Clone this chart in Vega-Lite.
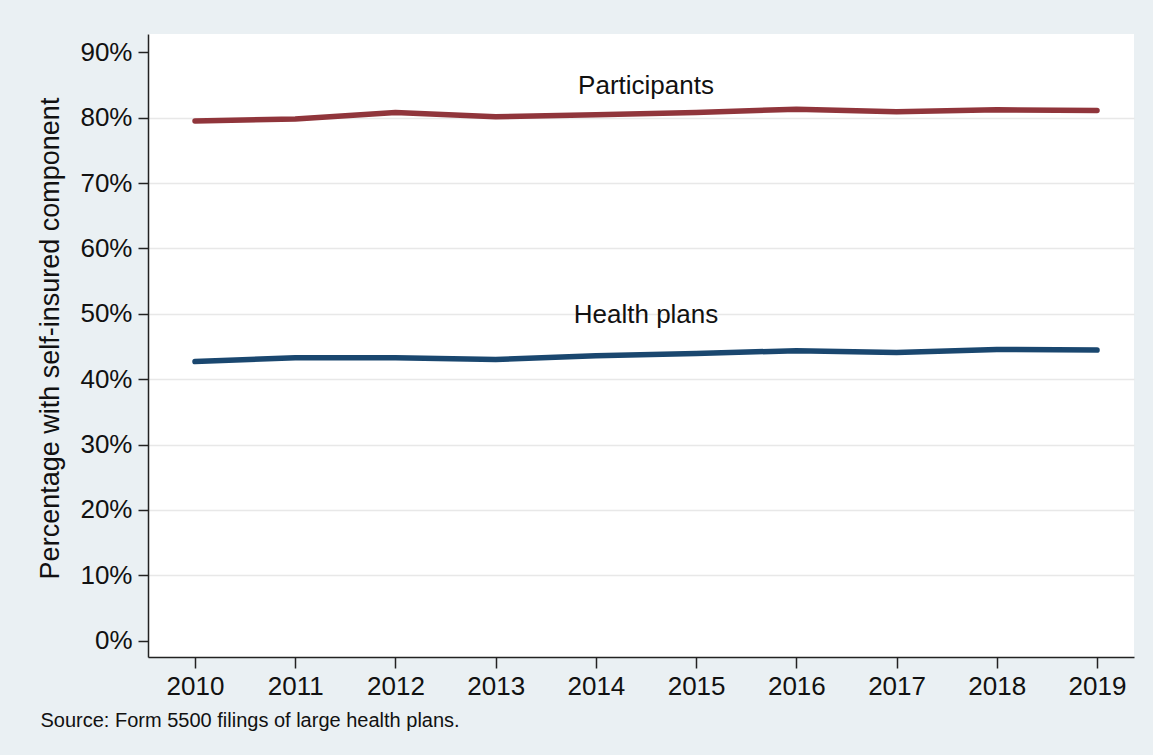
{
  "$schema": "https://vega.github.io/schema/vega-lite/v6.json",
  "width": 986,
  "height": 623,
  "autosize": {"type": "none"},
  "padding": {"left": 148, "top": 34, "right": 19, "bottom": 98},
  "background": "#eaf0f3",
  "view": {"fill": "white", "stroke": null},
  "config": {
    "font": "Liberation Sans",
    "axis": {"labelFont": "Liberation Sans", "titleFont": "Liberation Sans", "labelColor": "#111", "titleColor": "#111", "titleFontWeight": "normal"}
  },
  "datasets": {
    "series": [
      {"year": 2010, "value": 79.5, "series": "Participants"},
      {"year": 2011, "value": 79.8, "series": "Participants"},
      {"year": 2012, "value": 80.8, "series": "Participants"},
      {"year": 2013, "value": 80.15, "series": "Participants"},
      {"year": 2014, "value": 80.45, "series": "Participants"},
      {"year": 2015, "value": 80.8, "series": "Participants"},
      {"year": 2016, "value": 81.3, "series": "Participants"},
      {"year": 2017, "value": 80.9, "series": "Participants"},
      {"year": 2018, "value": 81.2, "series": "Participants"},
      {"year": 2019, "value": 81.1, "series": "Participants"},
      {"year": 2010, "value": 42.7, "series": "Health plans"},
      {"year": 2011, "value": 43.3, "series": "Health plans"},
      {"year": 2012, "value": 43.3, "series": "Health plans"},
      {"year": 2013, "value": 43.0, "series": "Health plans"},
      {"year": 2014, "value": 43.6, "series": "Health plans"},
      {"year": 2015, "value": 43.95, "series": "Health plans"},
      {"year": 2016, "value": 44.35, "series": "Health plans"},
      {"year": 2017, "value": 44.1, "series": "Health plans"},
      {"year": 2018, "value": 44.55, "series": "Health plans"},
      {"year": 2019, "value": 44.45, "series": "Health plans"}
    ],
    "labels": [
      {"year": 2014.5, "value": 84.9, "label": "Participants"},
      {"year": 2014.5, "value": 49.8, "label": "Health plans"}
    ]
  },
  "layer": [
    {
      "data": {"name": "series"},
      "mark": {"type": "line", "strokeWidth": 5.5, "strokeCap": "round", "strokeJoin": "round"},
      "encoding": {
        "x": {
          "field": "year", "type": "quantitative",
          "scale": {"domain": [2009.531, 2019.369], "nice": false, "zero": false},
          "axis": {
            "values": [2010, 2011, 2012, 2013, 2014, 2015, 2016, 2017, 2018, 2019],
            "format": "d",
            "grid": false,
            "domainColor": "#222", "domainWidth": 1.5,
            "tickColor": "#222", "tickWidth": 1.5, "tickSize": 11,
            "labelFontSize": 26, "labelPadding": 5,
            "title": "Source: Form 5500 filings of large health plans.",
            "titleFontSize": 20, "titleAnchor": "start", "titleAlign": "left",
            "titleBaseline": "alphabetic", "titleX": -108, "titleY": 69
          }
        },
        "y": {
          "field": "value", "type": "quantitative",
          "scale": {"domain": [-2.49, 92.8], "nice": false, "zero": false},
          "axis": {
            "values": [0, 10, 20, 30, 40, 50, 60, 70, 80, 90],
            "labelExpr": "datum.value + '%'",
            "grid": true,
            "gridColor": "#e8e8e8", "gridWidth": 1.5,
            "gridOpacity": {"condition": {"test": "datum.value >= 10 && datum.value <= 80", "value": 1}, "value": 0},
            "domainColor": "#222", "domainWidth": 1.5,
            "tickColor": "#222", "tickWidth": 1.5, "tickSize": 10,
            "labelFontSize": 26, "labelPadding": 6,
            "title": "Percentage with self-insured component",
            "titleFontSize": 27, "titlePadding": 15, "titleY": 304
          }
        },
        "color": {
          "field": "series", "type": "nominal",
          "scale": {"domain": ["Participants", "Health plans"], "range": ["#90353b", "#1a476f"]},
          "legend": null
        }
      }
    },
    {
      "data": {"name": "labels"},
      "mark": {"type": "text", "fontSize": 26, "font": "Liberation Sans", "color": "#111", "align": "center", "baseline": "middle"},
      "encoding": {
        "x": {"field": "year", "type": "quantitative"},
        "y": {"field": "value", "type": "quantitative"},
        "text": {"field": "label"}
      }
    }
  ]
}
